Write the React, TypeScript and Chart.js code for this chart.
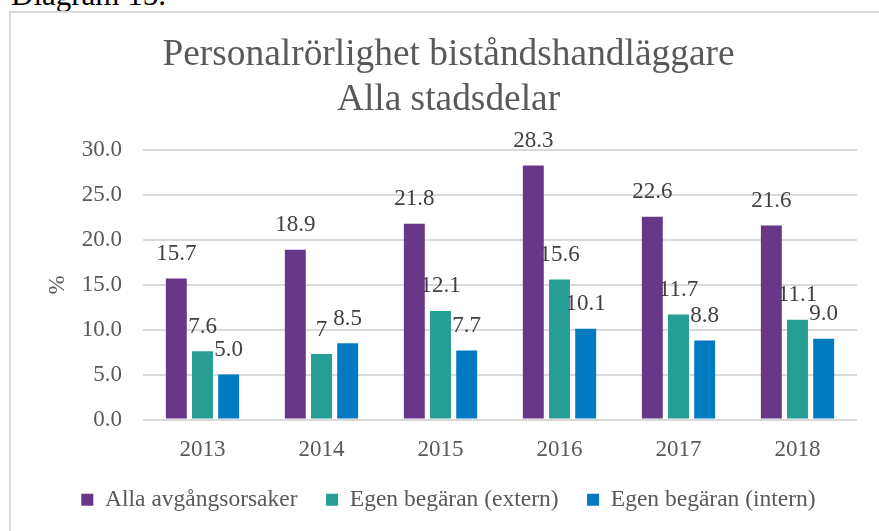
import React, { useEffect, useRef } from 'react';
import { Chart, registerables } from 'chart.js';

Chart.register(...registerables);

const FONT = "'Liberation Serif', 'Times New Roman', serif";

const categories = ['2013', '2014', '2015', '2016', '2017', '2018'];
const seriesNames = ['Alla avgångsorsaker', 'Egen begäran (extern)', 'Egen begäran (intern)'];
const allaAvgang = [15.7, 18.9, 21.8, 28.3, 22.6, 21.6];
const egenExtern = [7.6, 7.3, 12.1, 15.6, 11.7, 11.1];
const egenIntern = [5.0, 8.5, 7.7, 10.1, 8.8, 9.0];
const allaLabels = ['15.7', '18.9', '21.8', '28.3', '22.6', '21.6'];
const externLabels = ['7.6', '7', '12.1', '15.6', '11.7', '11.1'];
const internLabels = ['5.0', '8.5', '7.7', '10.1', '8.8', '9.0'];
const titleLines = ['Personalrörlighet biståndshandläggare', 'Alla stadsdelar'];
const yAxisTitle = '%';
const yMin = 0;
const yMax = 30;
const yStep = 5;

const valueLabels = [allaLabels, externLabels, internLabels];

const dataLabelPlugin = {
  id: 'valueLabels',
  afterDatasetsDraw(chart: any) {
    const ctx = chart.ctx;
    ctx.save();
    ctx.font = `23px ${FONT}`;
    ctx.fillStyle = '#404040';
    ctx.textAlign = 'center';
    ctx.textBaseline = 'middle';
    chart.data.datasets.forEach((_ds: any, i: number) => {
      const meta = chart.getDatasetMeta(i);
      meta.data.forEach((el: any, j: number) => {
        ctx.fillText(valueLabels[i][j], el.x, el.y - 24.5);
      });
    });
    ctx.restore();
  },
};

export default function App() {
  const ref = useRef<HTMLCanvasElement | null>(null);

  useEffect(() => {
    if (!ref.current) return;
    const chart = new Chart(ref.current, {
      type: 'bar',
      data: {
        labels: categories,
        datasets: [
          { label: seriesNames[0], data: allaAvgang, backgroundColor: '#683787' },
          { label: seriesNames[1], data: egenExtern, backgroundColor: '#279E93' },
          { label: seriesNames[2], data: egenIntern, backgroundColor: '#007BC2' },
        ],
      },
      options: {
        animation: false,
        responsive: false,
        datasets: {
          bar: { categoryPercentage: 0.66, barPercentage: 0.8 },
        },
        layout: { padding: { left: 29, right: 28, top: 0, bottom: 11.5 } },
        plugins: {
          title: {
            display: true,
            text: titleLines,
            color: '#595959',
            font: { family: FONT, size: 37.4, weight: 'normal', lineHeight: 1.19 },
            padding: { top: 20.3, bottom: 27.9 },
          },
          legend: {
            position: 'bottom',
            labels: {
              boxWidth: 12,
              boxHeight: 12,
              padding: 28.5,
              color: '#595959',
              font: { family: FONT, size: 23.5 },
            },
          },
          tooltip: { enabled: false },
        },
        scales: {
          x: {
            grid: { display: false, drawTicks: false },
            border: { display: false },
            ticks: {
              color: '#595959',
              font: { family: FONT, size: 23, lineHeight: 1.6 },
              padding: 12.5,
            },
            afterFit: (scale: any) => {
              scale.height = 40;
            },
          },
          y: {
            min: yMin,
            max: yMax,
            grid: { color: '#d9d9d9', lineWidth: 2, drawTicks: false },
            border: { display: false },
            ticks: {
              stepSize: yStep,
              callback: (v: any) => Number(v).toFixed(1),
              color: '#595959',
              font: { family: FONT, size: 23 },
              padding: 21,
            },
            title: {
              display: true,
              text: yAxisTitle,
              color: '#595959',
              font: { family: FONT, size: 23 },
              padding: { top: 4.2, bottom: 0 },
            },
            afterFit: (scale: any) => {
              scale.width = 103;
            },
          },
        },
      },
      plugins: [dataLabelPlugin],
    } as any);
    return () => chart.destroy();
  }, []);

  return (
    <div
      style={{
        position: 'fixed',
        left: 0,
        top: 0,
        width: 879,
        height: 531,
        overflow: 'hidden',
        background: '#ffffff',
      }}
    >
      <div
        style={{
          position: 'absolute',
          left: 11,
          top: -21,
          fontFamily: FONT,
          fontSize: 31,
          lineHeight: '31px',
          color: '#000000',
          whiteSpace: 'nowrap',
        }}
      >
        Diagram 15.
      </div>
      <div
        style={{
          position: 'absolute',
          left: 9,
          top: 11,
          width: 878,
          height: 524,
          border: '2px solid #d9d9d9',
          boxSizing: 'border-box',
          background: '#ffffff',
        }}
      >
        <canvas ref={ref} width={874} height={520} style={{ display: 'block' }} />
      </div>
    </div>
  );
}
